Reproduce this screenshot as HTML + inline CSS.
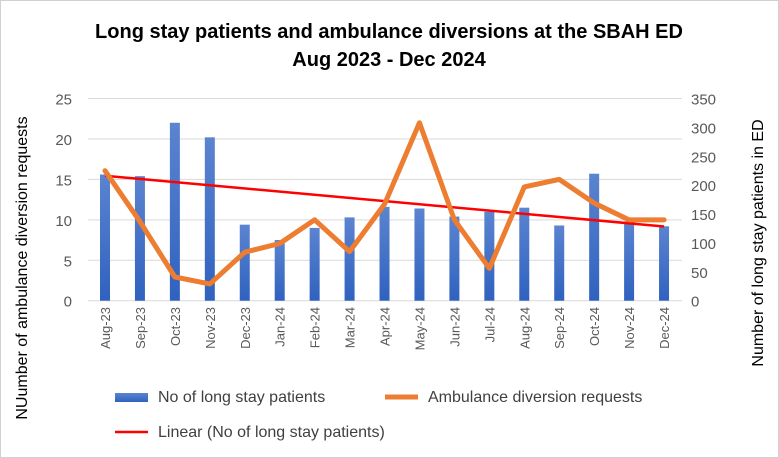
<!DOCTYPE html>
<html><head><meta charset="utf-8"><style>
body{margin:0;background:#fff;}
svg{display:block;font-family:"Liberation Sans",sans-serif;}
</style></head><body>
<svg id="c" width="779" height="458" viewBox="0 0 779 458">
<defs><linearGradient id="bg" x1="0" y1="0" x2="0" y2="1"><stop offset="0" stop-color="#5b84d0"/><stop offset="1" stop-color="#2f62bf"/></linearGradient></defs>
<rect x="0.5" y="0.5" width="778" height="457" fill="#fff" stroke="#d0d0d0"/>
<text x="389" y="38" text-anchor="middle" font-size="20" font-weight="bold" fill="#000">Long stay patients and ambulance diversions at the SBAH ED</text>
<text x="389" y="66" text-anchor="middle" font-size="20" font-weight="bold" fill="#000">Aug 2023 - Dec 2024</text>
<g id="grid"></g><g id="bars"></g><g id="lines"></g><g id="axes"></g>
<text transform="translate(27,268) rotate(-90)" text-anchor="middle" font-size="16" fill="#000">NUumber of ambulance diversion requests</text>
<text transform="translate(763,243) rotate(-90)" text-anchor="middle" font-size="16" fill="#000">Number of long stay patients in ED</text>
<g>
<rect x="115" y="393" width="33" height="9" fill="url(#bg)"/>
<text x="158" y="402" font-size="16" fill="#404040">No of long stay patients</text>
<line x1="385" y1="397" x2="418" y2="397" stroke="#ed7d31" stroke-width="5"/>
<text x="428" y="402" font-size="16" fill="#404040">Ambulance diversion requests</text>
<line x1="115" y1="432" x2="148" y2="432" stroke="#ff0000" stroke-width="2.5"/>
<text x="158" y="437" font-size="16" fill="#404040">Linear (No of long stay patients)</text>
</g>
</svg>
<script>
const categories=["Aug-23","Sep-23","Oct-23","Nov-23","Dec-23","Jan-24","Feb-24","Mar-24","Apr-24","May-24","Jun-24","Jul-24","Aug-24","Sep-24","Oct-24","Nov-24","Dec-24"];
const barValues=[15.6,15.4,22,20.2,9.4,7.5,9.0,10.3,11.6,11.4,10.4,11.0,11.5,9.3,15.7,9.8,9.2];
const lineValues=[225,137,41,29,84,99,140,85,167,308,140,56,197,210,169,140,140];
const leftTicks=[0,5,10,15,20,25];
const rightTicks=[0,50,100,150,200,250,300,350];
const NS="http://www.w3.org/2000/svg";
const X0=105,DX=34.94,YB=300.7,YT=98.5;
const xs=i=>X0+i*DX;
const yL=v=>YB-(v/25)*(YB-YT);
const yR=v=>YB-(v/350)*(YB-YT);
function mk(t,a,p){const e=document.createElementNS(NS,t);for(const k in a)e.setAttribute(k,a[k]);p.appendChild(e);return e;}
const grid=document.getElementById('grid'),axes=document.getElementById('axes'),bars=document.getElementById('bars'),lines=document.getElementById('lines');
leftTicks.forEach(v=>{
 const l=mk('line',{x1:88,x2:682,y1:yL(v),y2:yL(v),stroke:'#d9d9d9','stroke-width':1},grid);
 
 
 const t=mk('text',{x:72,y:yL(v)+6,'text-anchor':'end','font-size':15,fill:'#595959'},axes);t.textContent=v;
 
 
});
rightTicks.forEach(v=>{
 const t=mk('text',{x:691,y:yR(v)+6,'font-size':15,fill:'#595959'},axes);t.textContent=v;
 
 
});
categories.forEach((c,i)=>{
 const t=mk('text',{transform:`translate(${xs(i)+5},307) rotate(-90)`,'text-anchor':'end','font-size':13,fill:'#595959'},axes);t.textContent=c;
 
 
 const b=mk('rect',{x:xs(i)-5,y:yL(barValues[i]),width:10,height:YB-yL(barValues[i]),fill:'url(#bg)'},bars);
 
 
});
const n=barValues.length;let sx=0,sy=0,sxy=0,sxx=0;
barValues.forEach((v,i)=>{sx+=i;sy+=v;sxy+=i*v;sxx+=i*i;});
const slope=(n*sxy-sx*sy)/(n*sxx-sx*sx),icpt=(sy-slope*sx)/n;
const tr=mk('line',{x1:xs(0),y1:yL(icpt),x2:xs(n-1),y2:yL(icpt+slope*(n-1)),stroke:'#ff0000','stroke-width':2.5},lines);


const pl=mk('polyline',{points:lineValues.map((v,i)=>xs(i)+','+yR(v)).join(' '),fill:'none',stroke:'#ed7d31','stroke-width':5,'stroke-linejoin':'round','stroke-linecap':'round'},lines);


</script>
</body></html>
